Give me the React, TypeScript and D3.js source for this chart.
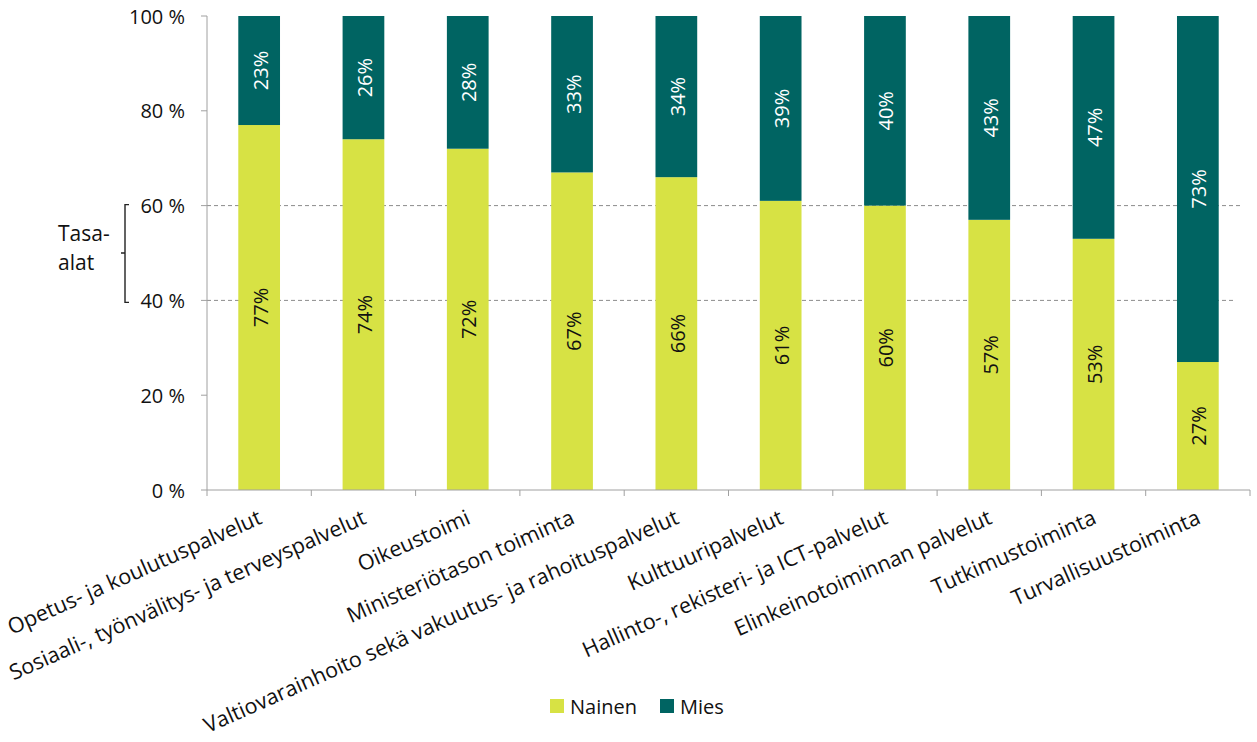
import React, { useEffect, useRef } from "react";
import * as d3 from "d3";

const categories = [
  "Opetus- ja koulutuspalvelut",
  "Sosiaali-, työnvälitys- ja terveyspalvelut",
  "Oikeustoimi",
  "Ministeriötason toiminta",
  "Valtiovarainhoito sekä vakuutus- ja rahoituspalvelut",
  "Kulttuuripalvelut",
  "Hallinto-, rekisteri- ja ICT-palvelut",
  "Elinkeinotoiminnan palvelut",
  "Tutkimustoiminta",
  "Turvallisuustoiminta",
];
const nainen = [77, 74, 72, 67, 66, 61, 60, 57, 53, 27];
const mies = [23, 26, 28, 33, 34, 39, 40, 43, 47, 73];
const seriesNames = ["Nainen", "Mies"];
const yTicks = [0, 20, 40, 60, 80, 100];
const refLines = [40, 60];
const bracketLabel = ["Tasa-", "alat"];

const W = 1257;
const H = 742;
const FONT = "'Open Sans', sans-serif";
const colors = ["#d7e244", "#006462"];

export default function App() {
  const ref = useRef<SVGSVGElement>(null);
  useEffect(() => {
    const svg = d3.select(ref.current);
    svg.selectAll("*").remove();
    const left = 207, right = 1250, top = 16, bottom = 490;
    const x = d3.scaleBand().domain(categories).range([left, right]).paddingInner(0.6).paddingOuter(0.3);
    const xb = d3.scaleBand().domain(categories).range([left, right]);
    const y = d3.scaleLinear().domain([0, 100]).range([bottom, top]);

    // ref lines
    refLines.forEach((v, i) => {
      svg.append("line").attr("x1", left).attr("x2", i === 0 ? 1234 : 1240)
        .attr("y1", y(v)).attr("y2", y(v))
        .attr("stroke", "#8c8c8c").attr("stroke-width", 1).attr("stroke-dasharray", "4,3");
    });

    const stack = categories.map((c, i) => ({ c, n: nainen[i], m: mies[i] }));
    stack.forEach((d) => {
      const bx = x(d.c)!;
      const bw = x.bandwidth();
      svg.append("rect").attr("x", bx).attr("width", bw)
        .attr("y", y(d.n)).attr("height", y(0) - y(d.n)).attr("fill", colors[0]);
      svg.append("rect").attr("x", bx).attr("width", bw)
        .attr("y", y(100)).attr("height", y(d.n) - y(100)).attr("fill", colors[1]);
      const cx = bx + bw / 2;
      const cyN = y(d.n / 2);
      const cyM = y(d.n + d.m / 2);
      svg.append("text").attr("transform", `translate(${cx + 1},${cyN}) rotate(-90)`)
        .attr("text-anchor", "middle").attr("dominant-baseline", "central")
        .attr("font-family", FONT).attr("font-size", 20).attr("fill", "#111")
        .text(`${d.n}%`);
      svg.append("text").attr("transform", `translate(${cx + 1},${cyM}) rotate(-90)`)
        .attr("text-anchor", "middle").attr("dominant-baseline", "central")
        .attr("font-family", FONT).attr("font-size", 20).attr("fill", "#fff")
        .text(`${d.m}%`);
    });

    // axes
    const axisColor = "#a0a0a0";
    svg.append("line").attr("x1", left).attr("x2", left).attr("y1", top).attr("y2", bottom)
      .attr("stroke", axisColor);
    svg.append("line").attr("x1", left).attr("x2", right).attr("y1", bottom).attr("y2", bottom)
      .attr("stroke", axisColor);
    yTicks.forEach((t) => {
      svg.append("line").attr("x1", left - 6).attr("x2", left).attr("y1", y(t)).attr("y2", y(t))
        .attr("stroke", axisColor);
      svg.append("text").attr("x", 185).attr("y", y(t)).attr("text-anchor", "end")
        .attr("dominant-baseline", "central").attr("font-family", FONT).attr("font-size", 20)
        .attr("fill", "#111").text(`${t} %`);
    });
    categories.forEach((c, i) => {
      const bx = xb(c)!;
      svg.append("line").attr("x1", bx).attr("x2", bx).attr("y1", bottom).attr("y2", bottom + 6)
        .attr("stroke", axisColor);
      if (i === categories.length - 1) {
        svg.append("line").attr("x1", bx + xb.bandwidth()).attr("x2", bx + xb.bandwidth())
          .attr("y1", bottom).attr("y2", bottom + 6).attr("stroke", axisColor);
      }
      const cx = bx + xb.bandwidth() / 2;
      svg.append("text").attr("transform", `translate(${cx + 4},${bottom + 33}) rotate(-24)`)
        .attr("text-anchor", "end").attr("font-family", FONT).attr("font-size", 21.5)
        .attr("fill", "#111").text(c);
    });

    // bracket
    const bxL = 125;
    svg.append("path")
      .attr("d", `M${bxL + 4},${y(60) - 1} H${bxL} V${y(40) + 2} H${bxL + 4} M${bxL},${y(50)} H${bxL - 4}`)
      .attr("fill", "none").attr("stroke", "#222").attr("stroke-width", 1.4);
    bracketLabel.forEach((t, i) => {
      svg.append("text").attr("x", 58).attr("y", 241 + i * 29).attr("font-family", FONT)
        .attr("font-size", 21).attr("fill", "#111").text(t);
    });

    // legend
    seriesNames.forEach((s, i) => {
      const lx = i === 0 ? 550 : 660;
      svg.append("rect").attr("x", lx).attr("y", 699).attr("width", 14).attr("height", 14)
        .attr("fill", colors[i]);
      svg.append("text").attr("x", lx + 20).attr("y", 706).attr("dominant-baseline", "central")
        .attr("font-family", FONT).attr("font-size", 20).attr("fill", "#111").text(s);
    });
  }, []);
  return (
    <svg ref={ref} width={W} height={H} style={{ position: "absolute", left: 0, top: 0, background: "#fff" }} />
  );
}
